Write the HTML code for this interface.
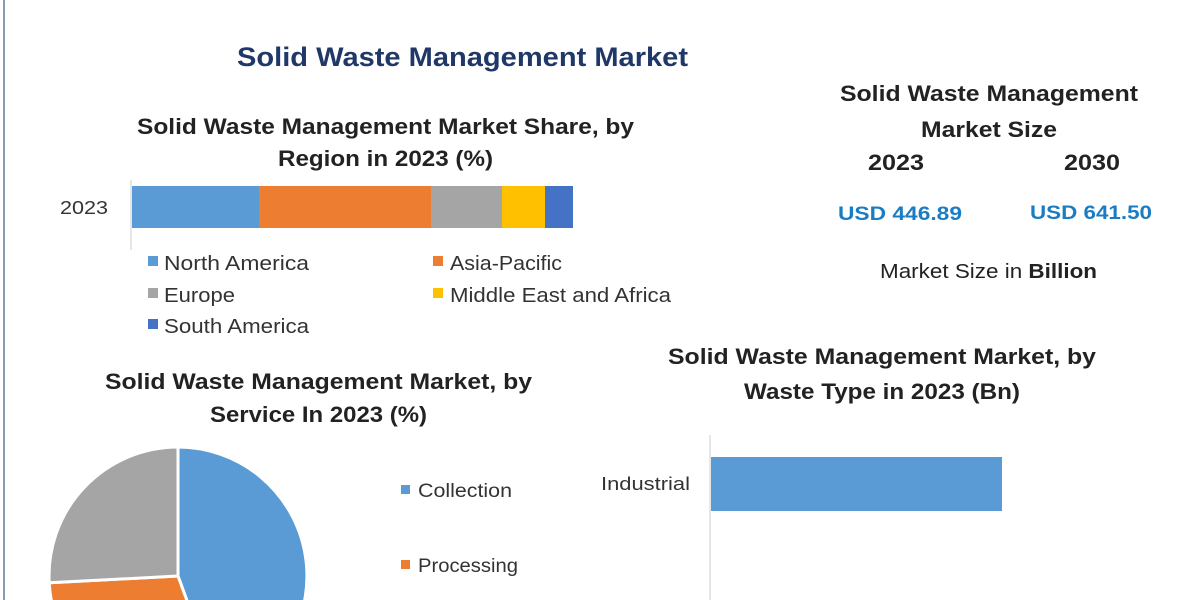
<!DOCTYPE html>
<html><head><meta charset="utf-8"><style>
body{margin:0;width:1200px;height:600px;overflow:hidden;background:#fff;font-family:"Liberation Sans",sans-serif}
</style></head><body>
<svg width="1200" height="600" xmlns="http://www.w3.org/2000/svg" font-family="Liberation Sans, sans-serif" style="display:block">
<rect x="0" y="0" width="1200" height="600" fill="#fff"/>
<line x1="4" y1="0" x2="4" y2="600" stroke="#8a9bb8" stroke-width="2"/>
<g>
<text x="237" y="66" font-size="27" font-weight="bold" fill="#1f3868" textLength="451" lengthAdjust="spacingAndGlyphs">Solid Waste Management Market</text>
<text x="137" y="134" font-size="22" font-weight="bold" fill="#222" textLength="497" lengthAdjust="spacingAndGlyphs">Solid Waste Management Market Share, by</text>
<text x="278" y="166" font-size="22" font-weight="bold" fill="#222" textLength="215" lengthAdjust="spacingAndGlyphs">Region in 2023 (%)</text>
<line x1="131" y1="180" x2="131" y2="250" stroke="#ccc"/>
<text x="60" y="214" font-size="18" fill="#333" textLength="48" lengthAdjust="spacingAndGlyphs">2023</text>
<rect x="132" y="186" width="127" height="42" fill="#5b9bd5"/>
<rect x="259" y="186" width="172" height="42" fill="#ed7d31"/>
<rect x="431" y="186" width="71" height="42" fill="#a5a5a5"/>
<rect x="502" y="186" width="43" height="42" fill="#ffc000"/>
<rect x="545" y="186" width="28" height="42" fill="#4472c4"/>
<g font-size="20" fill="#333">
<rect x="148" y="256" width="10" height="10" fill="#5b9bd5"/><text x="164" y="270" textLength="145" lengthAdjust="spacingAndGlyphs">North America</text>
<rect x="433" y="256" width="10" height="10" fill="#ed7d31"/><text x="450" y="270" textLength="112" lengthAdjust="spacingAndGlyphs">Asia-Pacific</text>
<rect x="148" y="288" width="10" height="10" fill="#a5a5a5"/><text x="164" y="302" textLength="71" lengthAdjust="spacingAndGlyphs">Europe</text>
<rect x="433" y="288" width="10" height="10" fill="#ffc000"/><text x="450" y="302" textLength="221" lengthAdjust="spacingAndGlyphs">Middle East and Africa</text>
<rect x="148" y="319" width="10" height="10" fill="#4472c4"/><text x="164" y="333" textLength="145" lengthAdjust="spacingAndGlyphs">South America</text>
</g>
<text x="840" y="101" font-size="22" font-weight="bold" fill="#222" textLength="298" lengthAdjust="spacingAndGlyphs">Solid Waste Management</text>
<text x="921" y="137" font-size="22" font-weight="bold" fill="#222" textLength="136" lengthAdjust="spacingAndGlyphs">Market Size</text>
<text x="868" y="170" font-size="22" font-weight="bold" fill="#222" textLength="56" lengthAdjust="spacingAndGlyphs">2023</text>
<text x="1064" y="170" font-size="22" font-weight="bold" fill="#222" textLength="56" lengthAdjust="spacingAndGlyphs">2030</text>
<text x="838" y="220" font-size="19" font-weight="bold" fill="#1a7dc4" textLength="124" lengthAdjust="spacingAndGlyphs">USD 446.89</text>
<text x="1030" y="219" font-size="19" font-weight="bold" fill="#1a7dc4" textLength="122" lengthAdjust="spacingAndGlyphs">USD 641.50</text>
<text x="880" y="278" font-size="20" fill="#222" textLength="217" lengthAdjust="spacingAndGlyphs">Market Size in <tspan font-weight="bold">Billion</tspan></text>
<text x="105" y="389" font-size="22" font-weight="bold" fill="#222" textLength="427" lengthAdjust="spacingAndGlyphs">Solid Waste Management Market, by</text>
<text x="210" y="422" font-size="22" font-weight="bold" fill="#222" textLength="217" lengthAdjust="spacingAndGlyphs">Service In 2023 (%)</text>
<text x="668" y="364" font-size="22" font-weight="bold" fill="#222" textLength="428" lengthAdjust="spacingAndGlyphs">Solid Waste Management Market, by</text>
<text x="744" y="399" font-size="22" font-weight="bold" fill="#222" textLength="276" lengthAdjust="spacingAndGlyphs">Waste Type in 2023 (Bn)</text>
<line x1="710" y1="435" x2="710" y2="600" stroke="#ccc"/>
<rect x="711" y="457" width="291" height="54" fill="#5b9bd5"/>
<text x="601" y="490" font-size="18" fill="#333" textLength="89" lengthAdjust="spacingAndGlyphs">Industrial</text>
<g stroke="#fff" stroke-width="3">
<path d="M178,576 L178,447 A129,129 0 0 1 222.1,697.2 Z" fill="#5b9bd5"/>
<path d="M178,576 L222.1,697.2 A129,129 0 0 1 49.2,582.8 Z" fill="#ed7d31"/>
<path d="M178,576 L49.2,582.8 A129,129 0 0 1 178,447 Z" fill="#a5a5a5"/>
</g>
<rect x="401" y="485" width="9" height="9" fill="#5b9bd5"/><text x="418" y="497" font-size="19" fill="#333" textLength="94" lengthAdjust="spacingAndGlyphs">Collection</text>
<rect x="401" y="560" width="9" height="9" fill="#ed7d31"/><text x="418" y="572" font-size="19" fill="#333" textLength="100" lengthAdjust="spacingAndGlyphs">Processing</text>
</g>
</svg>
</body></html>
